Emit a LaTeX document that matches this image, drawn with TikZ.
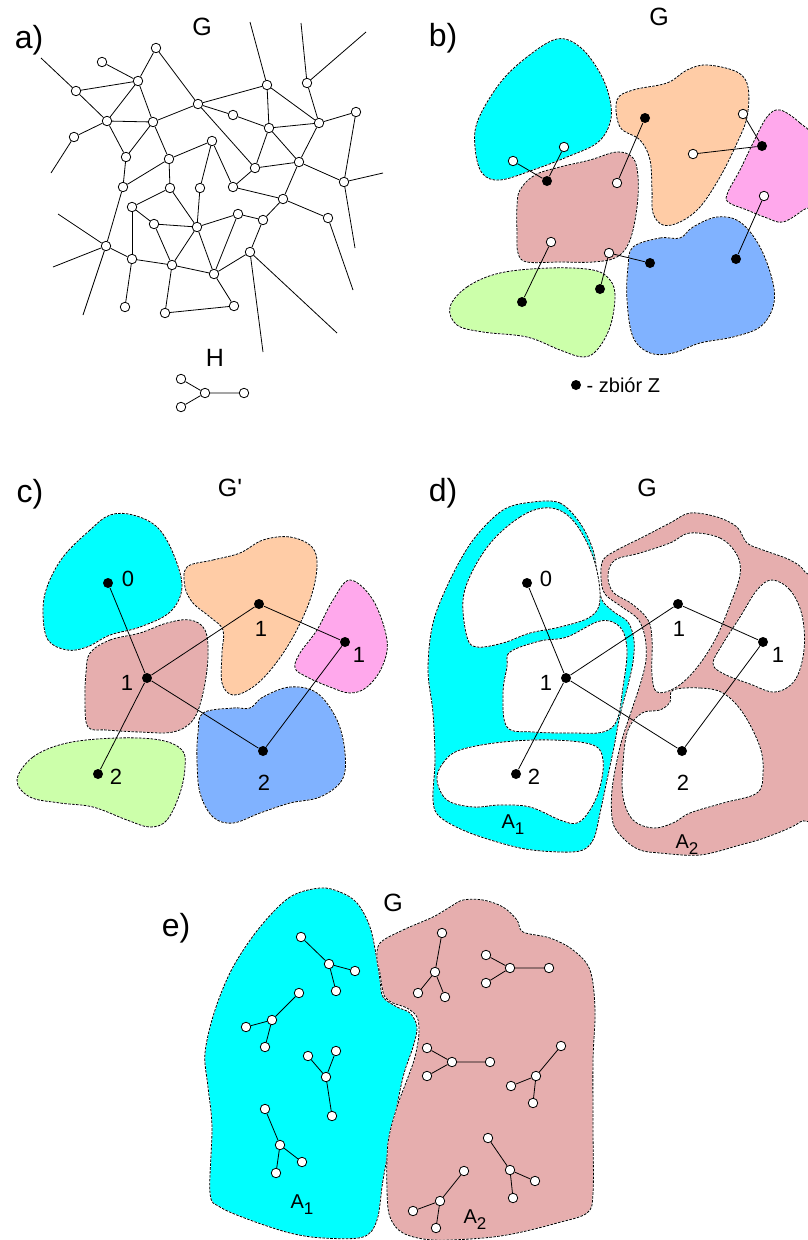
\documentclass[tikz,border=0pt]{standalone}
\usepackage{fontspec}
\setmainfont{Liberation Sans}
\definecolor{regcyan}{RGB}{0,255,255}
\definecolor{regpeach}{RGB}{255,204,166}
\definecolor{regpink}{RGB}{255,168,236}
\definecolor{regrose}{RGB}{230,174,174}
\definecolor{reggreen}{RGB}{204,255,170}
\definecolor{regblue}{RGB}{128,178,255}
\newcommand{\lowidx}[1]{\raisebox{-6pt}{\fontsize{17}{17}\selectfont #1}}

\begin{document}
\begin{tikzpicture}[x=1pt,y=-1pt,line width=0.8pt,
  vtx/.style={circle,draw,fill=white,inner sep=0pt,minimum size=9.5pt},
  zdot/.style={circle,fill=black,inner sep=0pt,minimum size=10pt},
  blob/.style={fill=#1,draw=white,line width=0.8pt,
    postaction={draw=black,line width=0.8pt,dash pattern=on 2.6pt off 1.3pt}},
  tag/.style={font=\fontsize{32}{32}\selectfont},
  gname/.style={font=\fontsize{25}{25}\selectfont},
  num/.style={font=\fontsize{22}{22}\selectfont},
  area/.style={font=\fontsize{20}{20}\selectfont}]
  \useasboundingbox (0,0) rectangle (808,1240);

  % a) graph G and pattern H
  \node[tag] (la) at (29,40) {a)};
  \node[gname] (ga) at (202,27) {G};
  \node[gname] (ha) at (215,358) {H};
  \foreach \n/\x/\y in {a1/156/48, a2/102/62, a3/138/81, a4/76/91, a5/107/121,
    a6/153/122, a7/74/137, a8/126/157, a9/169/159, a10/123/187, a11/170/188,
    a12/200/188, a13/212/141, a14/198/104, a15/233/115, a16/267/85, a17/307/83,
    a18/319/123, a19/356/112, a20/269/128, a21/255/168, a22/299/162, a23/233/187,
    a24/344/182, a25/283/199, a26/132/207, a27/154/224, a28/197/227, a29/238/214,
    a30/263/220, a31/328/218, a32/106/246, a33/132/259, a34/172/265, a35/214/274,
    a36/250/252, a37/125/307, a38/165/313, a39/234/306}
    \node[vtx] (\n) at (\x,\y) {};
  \foreach \s/\t in {a2/a3, a4/a3, a3/a1, a1/a14, a3/a5, a3/a6, a4/a5, a5/a6,
    a5/a7, a5/a8, a6/a8, a6/a14, a6/a9, a9/a10, a9/a11, a9/a13, a8/a10, a10/a32,
    a13/a12, a13/a23, a14/a16, a14/a15, a14/a21, a15/a20, a16/a20, a16/a18,
    a17/a18, a18/a20, a18/a19, a18/a22, a19/a24, a20/a21, a20/a22, a21/a22,
    a21/a23, a22/a24, a22/a25, a23/a25, a25/a30, a25/a31, a26/a11, a26/a27,
    a26/a33, a11/a28, a12/a28, a27/a28, a27/a34, a28/a29, a28/a34, a28/a35,
    a29/a35, a29/a30, a30/a36, a36/a35, a32/a33, a33/a34, a33/a37, a34/a35,
    a34/a38, a38/a39, a39/a35}
    \draw (\s) -- (\t);
  \foreach \n/\x/\y/\t in {f1/41/58/a4, f2/51/173/a7, f3/250/22/a16,
    f4/301/23/a17, f5/366/32/a17, f6/383/173/a24, f7/355/248/a24,
    f8/353/290/a31, f9/263/352/a36, f10/337/333/a36, f11/58/214/a32,
    f12/53/267/a32, f13/83/315/a32}
    {\coordinate (\n) at (\x,\y); \draw (\n) -- (\t);}

  % b) regions of G and the set Z
  \node[tag] (lb) at (443,38) {b)};
  \node[gname] (gb) at (659,17) {G};
  \draw[blob=regcyan] plot[smooth cycle,tension=0.6] coordinates {(557,39) (527,57)
    (500,83) (478,120) (475,147) (482,173) (500,180) (533,170) (567,157)
    (597,143) (610,123) (610,100) (600,73) (580,47)};
  \draw[blob=regpeach] plot[smooth cycle,tension=0.6] coordinates {(617,100)
    (633,90) (667,83) (687,70) (707,65) (737,72) (748,87) (747,117) (737,143)
    (720,177) (700,207) (680,222) (663,225) (653,213) (652,190) (650,160)
    (640,140) (620,127)};
  \draw[blob=regpink] plot[smooth cycle,tension=0.6] coordinates {(780,110)
    (800,123) (812,140) (812,200) (803,210) (783,222) (767,218) (747,210)
    (728,202) (728,192) (740,170) (753,143) (767,117)};
  \draw[blob=regrose] plot[smooth cycle,tension=0.6] coordinates {(520,190)
    (535,175) (560,167) (590,160) (617,152) (633,158) (638,177) (637,207)
    (630,240) (617,257) (593,262) (560,262) (527,262) (518,253) (517,233)
    (517,207)};
  \draw[blob=reggreen] plot[smooth cycle,tension=0.6] coordinates {(450,307)
    (467,287) (500,273) (550,268) (593,270) (610,280) (615,297) (610,327)
    (597,350) (583,357) (560,350) (527,337) (483,332) (457,325)};
  \draw[blob=regblue] plot[smooth cycle,tension=0.6] coordinates {(633,247)
    (660,238) (680,238) (693,227) (717,217) (740,222) (760,247) (773,283)
    (773,307) (760,327) (733,337) (700,343) (673,353) (650,353) (633,337)
    (627,300) (628,267)};
  \foreach \n/\x/\y in {bw1/513/161, bw2/564/147, bw3/617/183, bw4/693/154,
    bw5/743/114, bw6/764/196, bw7/551/242, bw8/609/253}
    \node[vtx] (\n) at (\x,\y) {};
  \foreach \n/\x/\y in {bz1/547/181, bz2/645/118, bz3/762/146, bz4/650/263,
    bz5/736/259, bz6/600/289, bz7/522/302}
    \node[zdot] (\n) at (\x,\y) {};
  \foreach \s/\t in {bw1/bz1, bw2/bz1, bw3/bz2, bw4/bz3, bw5/bz3, bw6/bz5,
    bw7/bz7, bw8/bz6, bw8/bz4}
    \draw (\s) -- (\t);
  \node[zdot] (lz) at (576,385) {};
  \node[area,anchor=west] (lzt) at (583,385) {- zbiór Z};

  % c) contracted graph G'
  \node[tag] (lc) at (30,494) {c)};
  \node[gname] (gc) at (230,488) {G\textquotesingle};
  \draw[blob=regcyan] plot[smooth cycle,tension=0.6] coordinates {(110,515) (90,530)
    (63,557) (47,587) (43,613) (48,640) (67,650) (87,647) (110,635) (140,627)
    (170,612) (182,587) (173,553) (157,527) (133,515)};
  \draw[blob=regpeach] plot[smooth cycle,tension=0.6] coordinates {(187,567)
    (213,560) (240,553) (263,540) (290,537) (312,547) (317,567) (310,600)
    (293,637) (273,667) (253,687) (233,695) (222,683) (222,653) (223,630)
    (210,617) (193,603) (185,587)};
  \draw[blob=regpink] plot[smooth cycle,tension=0.6] coordinates {(350,580)
    (373,600) (387,640) (382,667) (367,687) (350,693) (330,687) (307,677)
    (295,668) (300,653) (317,630) (333,600)};
  \draw[blob=regrose] plot[smooth cycle,tension=0.6] coordinates {(90,653)
    (110,640) (140,633) (167,623) (190,620) (205,630) (208,657) (203,693)
    (193,720) (173,732) (140,732) (107,730) (88,727) (85,700) (86,673)};
  \draw[blob=reggreen] plot[smooth cycle,tension=0.6] coordinates {(17,780)
    (33,757) (67,743) (117,738) (160,740) (182,750) (185,767) (180,793)
    (167,820) (150,827) (127,820) (93,807) (60,803) (30,797)};
  \draw[blob=regblue] plot[smooth cycle,tension=0.6] coordinates {(203,713)
    (233,708) (250,708) (263,697) (290,687) (317,693) (337,720) (345,753)
    (342,780) (320,797) (290,803) (260,813) (233,823) (213,817) (200,793)
    (197,760) (198,733)};
  \foreach \n/\x/\y/\lx/\ly/\l in {c0/108/583/128/579/0, c1/147/678/127/683/1,
    c1o/259/604/261/629/1, c1p/345/642/359/655/1, c2b/263/751/264/783/2,
    c2g/98/774/116/777/2}
    {\node[zdot] (\n) at (\x,\y) {}; \node[num] (\n-l) at (\lx,\ly) {\l};}
  \foreach \s/\t in {c0/c1, c1/c1o, c1o/c1p, c1/c2b, c2b/c1p, c1/c2g}
    \draw (\s) -- (\t);

  % d) the two parts A1, A2 of G
  \node[tag] (ld) at (443,493) {d)};
  \node[gname] (gd) at (647,488) {G};
  \draw[blob=regcyan] plot[smooth cycle,tension=0.55] coordinates {(533,502)
    (560,503) (580,523) (593,550) (598,580) (602,600) (614,612) (628,622)
    (634,640) (633,662) (628,685) (620,715) (614,747) (607,780) (600,813)
    (594,838) (583,850) (560,852) (520,848) (470,833) (440,817) (433,800)
    (435,760) (433,713) (428,670) (433,623) (450,580) (473,540) (503,510)};
  \draw[blob=regrose] plot[smooth cycle,tension=0.55] coordinates {(603,560)
    (617,550) (643,537) (670,523) (690,513) (717,517) (737,527) (747,543)
    (763,550) (790,560) (805,572) (815,600) (815,800) (800,822) (767,837)
    (740,845) (700,855) (660,853) (640,850) (625,840) (613,823) (612,790)
    (620,747) (630,715) (640,685) (646,660) (645,637) (638,619) (622,607)
    (605,594) (601,578)};
  \draw[blob=white] plot[smooth cycle,tension=0.6] coordinates {(543,508)
    (520,517) (493,540) (473,570) (463,600) (467,637) (477,647) (503,643)
    (530,633) (560,627) (590,617) (600,600) (595,563) (580,530) (563,512)};
  \draw[blob=white] plot[smooth cycle,tension=0.6] coordinates {(510,652)
    (540,641) (567,637) (600,621) (620,627) (627,650) (623,687) (617,720)
    (603,732) (573,733) (533,732) (507,727) (503,693) (507,667)};
  \draw[blob=white] plot[smooth cycle,tension=0.6] coordinates {(437,780)
    (443,763) (460,750) (503,742) (553,740) (593,745) (603,760) (600,787)
    (590,810) (577,823) (560,820) (530,807) (500,805) (473,807) (447,800)};
  \draw[blob=white] plot[smooth cycle,tension=0.6] coordinates {(690,533)
    (720,538) (737,555) (740,575) (730,605) (715,640) (695,670) (675,688)
    (657,692) (652,675) (652,640) (648,620) (632,604) (613,592) (608,575)
    (615,560) (640,553) (670,543)};
  \draw[blob=white] plot[smooth cycle,tension=0.6] coordinates {(772,580)
    (790,590) (802,615) (804,650) (795,680) (775,692) (750,684) (722,673)
    (713,663) (722,645) (740,617) (757,590)};
  \draw[blob=white] plot[smooth cycle,tension=0.6] coordinates {(673,690)
    (700,688) (723,693) (743,713) (760,747) (763,773) (757,793) (723,803)
    (690,813) (673,823) (653,828) (633,820) (623,797) (623,763) (628,730)
    (642,713) (660,710) (670,702)};
  \foreach \n/\x/\y/\lx/\ly/\l in {d0/527/583/546/579/0, d1/566/678/546/683/1,
    d1o/678/604/679/629/1, d1p/763/642/778/655/1, d2b/682/751/683/783/2,
    d2g/516/774/534/777/2}
    {\node[zdot] (\n) at (\x,\y) {}; \node[num] (\n-l) at (\lx,\ly) {\l};}
  \foreach \s/\t in {d0/d1, d1/d1o, d1o/d1p, d1/d2b, d2b/d1p, d1/d2g}
    \draw (\s) -- (\t);
  \node[area] (da1) at (513,825) {A\lowidx{1}};
  \node[area] (da2) at (687,845) {A\lowidx{2}};

  % e) copies of H inside A1 and A2
  \node[tag] (le) at (176,928) {e)};
  \node[gname] (ge) at (393,903) {G};
  \draw[blob=regcyan] plot[smooth cycle,tension=0.55] coordinates {(320,888)
    (290,897) (260,927) (233,967) (215,1010) (205,1053) (208,1087) (212,1127)
    (210,1193) (220,1207) (250,1220) (290,1233) (323,1238) (363,1237)
    (377,1220) (383,1180) (393,1127) (403,1077) (413,1047) (417,1027)
    (410,1013) (397,1007) (383,997) (380,980) (377,960) (370,927) (357,903)
    (340,892)};
  \draw[blob=regrose] plot[smooth cycle,tension=0.55] coordinates {(380,943)
    (403,930) (433,917) (450,907) (463,900) (483,900) (503,907) (517,920)
    (523,932) (550,938) (573,950) (590,970) (595,1010) (593,1060) (593,1127)
    (593,1193) (587,1213) (557,1223) (517,1233) (483,1238) (433,1240)
    (403,1233) (390,1217) (387,1190) (388,1143) (397,1107) (407,1080)
    (415,1057) (419,1033) (417,1017) (407,1008) (393,1003) (385,997)
    (382,987) (380,973) (377,960)};
  \foreach \t/\cx/\cy/\ax/\ay/\bx/\by/\dx/\dy in {
    h/205/393/181/379/181/407/244/393,
    t1/329/964/301/937/355/971/336/991,
    t2/272/1020/299/993/246/1027/265/1047,
    t3/326/1077/308/1056/336/1051/332/1116,
    t4/280/1145/265/1109/302/1162/276/1173,
    t5/435/972/442/933/418/993/445/997,
    t6/510/968/486/955/486/983/549/968,
    t7/452/1062/427/1048/427/1076/490/1062,
    t8/536/1076/561/1046/511/1086/533/1103,
    t9/510/1170/488/1138/535/1181/513/1198,
    t10/440/1201/464/1171/413/1211/436/1228}
    {\node[vtx] (\t-c) at (\cx,\cy) {};
     \node[vtx] (\t-a) at (\ax,\ay) {};
     \node[vtx] (\t-b) at (\bx,\by) {};
     \node[vtx] (\t-d) at (\dx,\dy) {};
     \draw (\t-c) -- (\t-a) (\t-c) -- (\t-b) (\t-c) -- (\t-d);}
  \node[area] (ea1) at (302,1205) {A\lowidx{1}};
  \node[area] (ea2) at (475,1220) {A\lowidx{2}};
\end{tikzpicture}
\end{document}
